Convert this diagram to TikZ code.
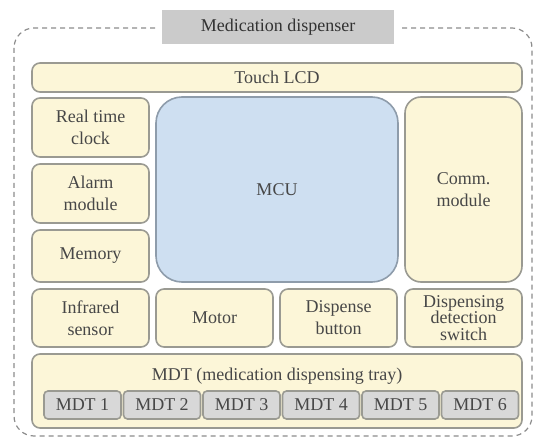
\documentclass[tikz,border=0pt]{standalone}
\usepackage{fontspec}
\setmainfont{Liberation Serif}
\definecolor{cream}{HTML}{FCF6D8}
\definecolor{edge}{HTML}{9A9A92}
\definecolor{mcublue}{HTML}{CEDFF1}
\definecolor{mcuedge}{HTML}{8E9CAB}
\definecolor{trayslot}{HTML}{D8D8D8}
\definecolor{titlegray}{HTML}{CBCBCB}
\definecolor{ink}{HTML}{474747}
\tikzset{
  unit/.style={draw=edge, fill=cream, line width=1.6pt, rounded corners=8pt,
    inner sep=0pt, align=center, text=ink,
    font=\fontsize{18}{22}\selectfont},
  slot/.style={draw=edge, fill=trayslot, line width=1.6pt, rounded corners=4pt,
    inner sep=0pt, text=ink, minimum width=77pt, minimum height=28pt,
    font=\fontsize{18}{18}\selectfont},
  enclosure/.style={draw=black!45, line width=1.2pt, dash pattern=on 5pt off 4pt,
    rounded corners=20pt},
  banner/.style={draw=white, line width=6pt, fill=titlegray, inner sep=0pt,
    minimum width=238pt, minimum height=40pt, text=black!80,
    font=\fontsize{18}{18}\selectfont}
}
\begin{document}
\begin{tikzpicture}[x=1pt, y=-1pt]
\useasboundingbox (0,0) rectangle (535,443);

% dashed outline of the whole device
\draw[enclosure] (14,28) rectangle (532,436);
\node[banner] (title) at (278,27) {Medication dispenser};

% display across the top
\node[unit, minimum width=490pt, minimum height=29pt] (lcd) at (277,77.5) {Touch LCD};

% left column
\node[unit, minimum width=117pt, minimum height=59pt] (rtc) at (90.5,127.5) {Real time\\clock};
\node[unit, minimum width=117pt, minimum height=59pt] (alarm) at (90.5,193.5) {Alarm\\module};
\node[unit, minimum width=117pt, minimum height=52pt] (mem) at (90.5,256) {Memory};

% controller and communication
\node[unit, fill=mcublue, draw=mcuedge, rounded corners=26pt,
      minimum width=242pt, minimum height=185pt] (mcu) at (277,189.5) {MCU};
\node[unit, rounded corners=16pt, minimum width=117pt, minimum height=185pt]
      (comm) at (463.5,189.5) {Comm.\\module};

% peripheral row
\node[unit, minimum width=117pt, minimum height=58pt] (ir) at (90.5,318) {Infrared\\sensor};
\node[unit, minimum width=117pt, minimum height=58pt] (motor) at (214.5,318) {Motor};
\node[unit, minimum width=117pt, minimum height=58pt] (button) at (338.5,318) {Dispense\\button};
\node[unit, minimum width=117pt, minimum height=58pt,
      font=\fontsize{18}{16.5}\selectfont] (switch) at (463.5,318) {Dispensing\\detection\\switch};

% dispensing tray with its six slots
\node[unit, minimum width=490pt, minimum height=74pt] (mdt) at (277,391) {};
\node[text=ink, font=\fontsize{18}{18}\selectfont, inner sep=0pt] (mdtlabel) at (277,376)
      {MDT (medication dispensing tray)};
\foreach \i in {1,...,6}{
  \node[slot] (mdt\i) at ({82.5+(\i-1)*79.5},405) {MDT \i};
}
\end{tikzpicture}
\end{document}
